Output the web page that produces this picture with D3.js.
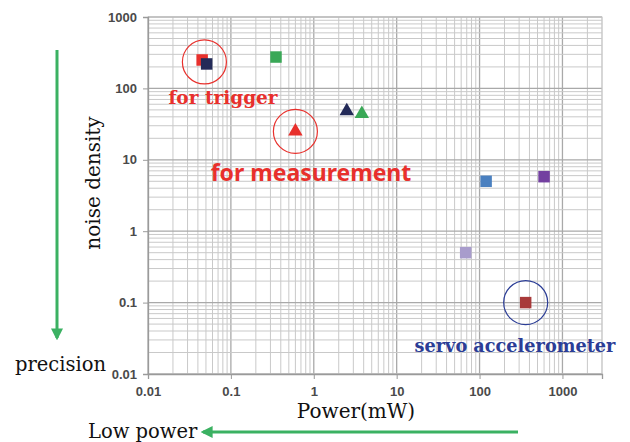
<!DOCTYPE html>
<html>
	<head>
		<title>Noise density vs power</title>
		<meta charset="utf-8">
	</head>
	<body>
		<svg id="chart" width="630" height="442"></svg>
	</body>

	<script src="https://d3js.org/d3.v7.min.js"></script>
	<script>
		// Values (power in mW, noise density)
		let power   = [0.045, 0.051, 0.35, 0.6, 2.5, 3.8, 120, 600, 68, 360];
		let noise   = [250, 220, 275, 25, 48, 44, 5, 5.8, 0.5, 0.1];
		let shapes  = ["square", "square", "square", "triangle", "triangle", "triangle", "square", "square", "square", "square"];
		let colors  = ["#e8302c", "#232a58", "#3aa857", "#e8302c", "#232a58", "#3aa857", "#4a80c0", "#7340a0", "#a89ccc", "#a83a3a"];

		let xTicks = [0.01, 0.1, 1, 10, 100, 1000];
		let yTicks = [0.01, 0.1, 1, 10, 100, 1000];
		let xTickLabels = ["0.01", "0.1", "1", "10", "100", "1000"];
		let yTickLabels = ["0.01", "0.1", "1", "10", "100", "1000"];

		// Highlighted groups: point indexes that get a ring
		let rings = [
			{ around: [0, 1], color: "#e8302c" },
			{ around: [3],    color: "#e8302c" },
			{ around: [9],    color: "#2b3d96" }
		];

		let svg = d3.select("#chart");

		let plotLeft = 148, plotRight = 602, plotTop = 17, plotBottom = 374;

		let x = d3.scaleLog().domain([0.01, 3000]).range([plotLeft, plotRight]);
		let y = d3.scaleLog().domain([0.01, 1000]).range([plotBottom, plotTop]);

		// minor grid (1..9 per decade)
		let grid = svg.append("g");

		grid.selectAll(".vx")
			.data(x.ticks())
			.enter()
			.append("line")
				.attr("x1", d => x(d)).attr("x2", d => x(d))
				.attr("y1", plotTop).attr("y2", plotBottom)
				.attr("stroke", d => xTicks.includes(d) ? "#a9a9a9" : "#c9c9c9")
				.attr("stroke-width", d => xTicks.includes(d) ? 1.3 : 1);

		grid.selectAll(".hy")
			.data(y.ticks())
			.enter()
			.append("line")
				.attr("x1", plotLeft).attr("x2", plotRight)
				.attr("y1", d => y(d)).attr("y2", d => y(d))
				.attr("stroke", d => yTicks.includes(d) ? "#a9a9a9" : "#c9c9c9")
				.attr("stroke-width", d => yTicks.includes(d) ? 1.3 : 1);

		// frame
		svg.append("rect")
			.attr("x", plotLeft).attr("y", plotTop)
			.attr("width", plotRight - plotLeft).attr("height", plotBottom - plotTop)
			.attr("fill", "none").attr("stroke", "#c9c9c9");

		// axes
		let xAxis = d3.axisBottom(x).tickValues(xTicks).tickSize(5).tickPadding(8)
			.tickFormat((d, i) => xTickLabels[i]);
		let yAxis = d3.axisLeft(y).tickValues(yTicks).tickSize(5).tickPadding(6)
			.tickFormat((d, i) => yTickLabels[i]);

		let gx = svg.append("g").attr("transform", `translate(0,${plotBottom})`).call(xAxis);
		let gy = svg.append("g").attr("transform", `translate(${plotLeft},0)`).call(yAxis);

		for (let g of [gx, gy])
		{
			g.select(".domain").attr("stroke", "#9a9a9a").attr("stroke-width", 1.3);
			g.selectAll(".tick line").attr("stroke", "#9a9a9a");
			g.selectAll(".tick text")
				.attr("fill", "#4a4a4a")
				.attr("font-family", "Arial, 'Liberation Sans', sans-serif")
				.attr("font-weight", "bold")
				.attr("font-size", 13);
		}

		// rings
		svg.append("g").selectAll("circle")
			.data(rings)
			.enter()
			.append("circle")
				.attr("cx", d => d3.mean(d.around, i => x(power[i])))
				.attr("cy", d => d3.mean(d.around, i => y(noise[i])))
				.attr("r", 22)
				.attr("fill", "none")
				.attr("stroke", d => d.color)
				.attr("stroke-width", 1.2);

		// markers
		let symbolFor = { square: d3.symbolSquare, triangle: d3.symbolTriangle };

		svg.append("g").selectAll("path")
			.data(power)
			.enter()
			.append("path")
				.attr("transform", (d, i) => `translate(${x(d)},${y(noise[i])})`)
				.attr("d", (d, i) => d3.symbol(symbolFor[shapes[i]], shapes[i] == "square" ? 132 : 90)())
				.attr("fill", (d, i) => colors[i]);

		// annotations
		let serif = "'DejaVu Serif', 'Liberation Serif', serif";
		let sans = "'Noto Sans', 'Liberation Sans', sans-serif";

		svg.append("text")
			.attr("x", 223).attr("y", 104)
			.attr("text-anchor", "middle")
			.attr("font-family", serif).attr("font-weight", "bold").attr("font-size", 18.5)
			.attr("fill", "#e8302c")
			.text("for trigger");

		svg.append("text")
			.attr("x", 311).attr("y", 181)
			.attr("text-anchor", "middle")
			.attr("font-family", sans).attr("font-weight", "bold").attr("font-size", 23)
			.attr("fill", "#e8302c")
			.text("for measurement");

		svg.append("text")
			.attr("x", 515).attr("y", 352)
			.attr("text-anchor", "middle")
			.attr("font-family", serif).attr("font-weight", "bold").attr("font-size", 17.7)
			.attr("fill", "#2b3d96")
			.text("servo accelerometer");

		// axis titles
		svg.append("text")
			.attr("transform", "translate(100,183) rotate(-90)")
			.attr("text-anchor", "middle")
			.attr("font-family", serif).attr("font-size", 20)
			.attr("fill", "#111")
			.text("noise density");

		svg.append("text")
			.attr("x", 356).attr("y", 418)
			.attr("text-anchor", "middle")
			.attr("font-family", serif).attr("font-size", 20)
			.attr("fill", "#111")
			.text("Power(mW)");

		svg.append("text")
			.attr("x", 15).attr("y", 371)
			.attr("font-family", serif).attr("font-size", 19.5)
			.attr("fill", "#111")
			.text("precision");

		svg.append("text")
			.attr("x", 88).attr("y", 438)
			.attr("font-family", serif).attr("font-size", 19.5)
			.attr("fill", "#111")
			.text("Low power");

		// green arrows
		let arrowGreen = "#3bb162";

		svg.append("defs").append("marker")
			.attr("id", "head")
			.attr("viewBox", "0 0 10 10")
			.attr("refX", 8).attr("refY", 5)
			.attr("markerWidth", 4).attr("markerHeight", 4)
			.attr("orient", "auto")
			.append("path")
				.attr("d", "M0,0 L10,5 L0,10 Z")
				.attr("fill", arrowGreen);

		svg.append("line")
			.attr("x1", 57).attr("y1", 50)
			.attr("x2", 57).attr("y2", 338)
			.attr("stroke", arrowGreen).attr("stroke-width", 3)
			.attr("marker-end", "url(#head)");

		svg.append("line")
			.attr("x1", 518).attr("y1", 432)
			.attr("x2", 203).attr("y2", 432)
			.attr("stroke", arrowGreen).attr("stroke-width", 3)
			.attr("marker-end", "url(#head)");
	</script>

	<style>
		html, body
		{
			margin: 0;
			background: #fff;
			overflow: hidden;
		}
	</style>
</html>
